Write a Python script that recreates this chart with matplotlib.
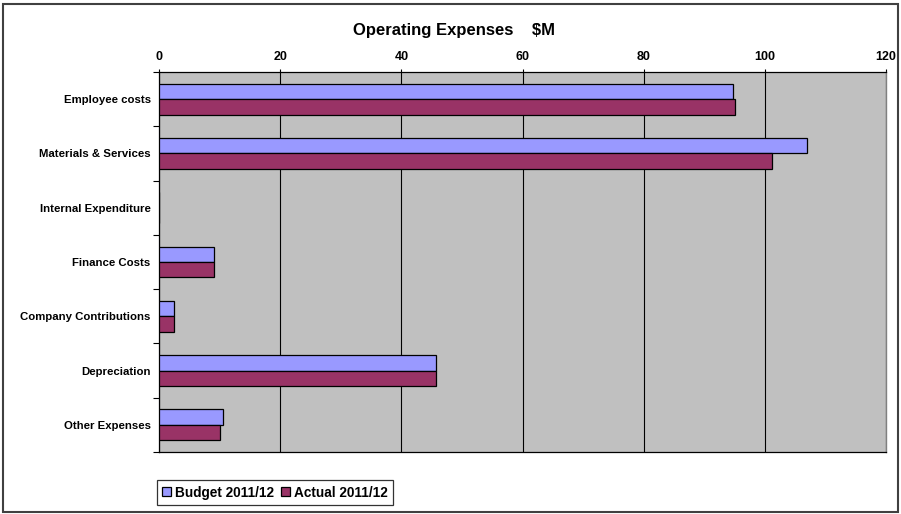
import matplotlib.pyplot as plt
import numpy as np
from matplotlib.patches import Rectangle

categories = ['Employee costs', 'Materials & Services', 'Internal Expenditure',
              'Finance Costs', 'Company Contributions', 'Depreciation', 'Other Expenses']
budget = [94.7, 107.0, 0.0, 9.0, 2.4, 45.8, 10.5]
actual = [95.1, 101.2, 0.0, 9.1, 2.4, 45.8, 10.1]
xticks = [0, 20, 40, 60, 80, 100, 120]

plt.rcParams['font.family'] = ['Liberation Sans', 'DejaVu Sans']
plt.rcParams['font.weight'] = 'bold'

fig = plt.figure(figsize=(9.01, 5.14), dpi=100)
W, H = 901, 514
ax = fig.add_axes([159 / W, 1 - 452 / H, (886 - 159) / W, (452 - 72) / H])
ax.set_facecolor('#C0C0C0')

y = np.arange(len(categories))
h = 0.285
ax.barh(y - h / 2, budget, height=h, color='#9999FF', edgecolor='black', linewidth=0.9,
        label='Budget 2011/12', zorder=3)
ax.barh(y + h / 2, actual, height=h, color='#993366', edgecolor='black', linewidth=0.9,
        label='Actual 2011/12', zorder=3)

ax.set_xlim(0, 120)
ax.set_ylim(len(categories) - 0.5, -0.5)
ax.xaxis.tick_top()
ax.set_xticks(xticks)
ax.set_xticklabels([str(v) for v in xticks], fontsize=9, fontweight='bold')
ax.tick_params(axis='x', length=2.5, width=0.8, pad=4)
ax.set_yticks(y)
ax.set_yticklabels(categories, fontsize=8.2, fontweight='bold')
ax.tick_params(axis='y', which='major', length=0, pad=6)
ax.set_yticks(np.arange(-0.5, len(categories), 1), minor=True)
ax.tick_params(axis='y', which='minor', length=4, width=0.8)
ax.grid(axis='x', color='black', linewidth=0.8, zorder=1)
ax.set_axisbelow(True)

for s in ['left', 'top', 'bottom']:
    ax.spines[s].set_color('black')
    ax.spines[s].set_linewidth(0.9)
ax.spines['right'].set_color('#808080')
ax.spines['right'].set_linewidth(1.0)

fig.text(454 / W, 1 - 30 / H, 'Operating Expenses    $M', ha='center', va='center',
         fontsize=12, fontweight='bold')

leg = fig.legend(loc='lower left', bbox_to_anchor=(157 / W, 1 - 505 / H), ncol=2,
                 fontsize=9.8, frameon=True, fancybox=False, handlelength=0.65,
                 handleheight=0.65, handletextpad=0.3, columnspacing=0.5,
                 borderpad=0.4, borderaxespad=0)
leg.get_frame().set_edgecolor('black')
leg.get_frame().set_linewidth(0.9)
for t in leg.get_texts():
    t.set_fontweight('bold')

fig.patches.append(Rectangle((3 / W, 2 / H), 895 / W, 508 / H, transform=fig.transFigure,
                             fill=False, edgecolor='#404040', linewidth=1.5))

fig.savefig('out.png', dpi=100)
